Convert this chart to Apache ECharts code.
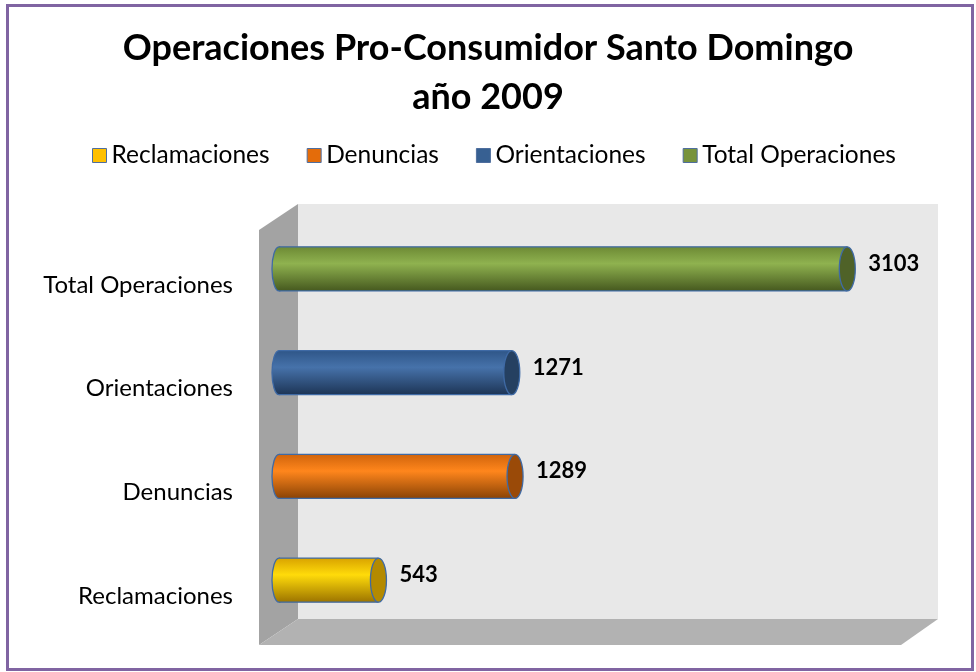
<!DOCTYPE html>
<html>
<head>
<meta charset="utf-8">
<script src="https://cdn.jsdelivr.net/npm/echarts@6/dist/echarts.min.js"></script>
<style>html,body{margin:0;padding:0;background:#fff}#c{width:976px;height:672px}</style>
</head>
<body>
<div id="c"></div>
<script>
const categories = ['Reclamaciones', 'Denuncias', 'Orientaciones', 'Total Operaciones'];
const values = [543, 1289, 1271, 3103];
const axisMax = 3500;
const titleText = 'Operaciones Pro-Consumidor Santo Domingo\naño 2009';

const palettes = [
  { legend: '#ffc000', top: '#d9a300', mid: '#ffdb0a', bottom: '#9c7400', cap: '#b48a00' },
  { legend: '#e46c0a', top: '#d0640c', mid: '#ff861c', bottom: '#8a4306', cap: '#9a4a08' },
  { legend: '#376092', top: '#2f5688', mid: '#4672aa', bottom: '#1d3556', cap: '#254061' },
  { legend: '#77933c', top: '#6d8a35', mid: '#8fb24f', bottom: '#46591f', cap: '#4f6228' }
];

const FONT = 'Lato, "Open Sans", sans-serif';
const OUTLINE = '#3f6aa5';

function makeRender(pal) {
  return function (params, api) {
    const val = api.value(0);
    const cat = api.value(1);
    const s = api.coord([0, cat]);
    const e = api.coord([val, cat]);
    const h = api.size([0, 1])[1] * 0.425;
    const cy = s[1];
    const top = cy - h / 2;
    const stops = [
      { offset: 0, color: pal.top },
      { offset: 0.38, color: pal.mid },
      { offset: 1, color: pal.bottom }
    ];
    return {
      type: 'group',
      children: [
        { type: 'ellipse', shape: { cx: s[0], cy: cy, rx: 7, ry: h / 2 },
          style: { fill: new echarts.graphic.LinearGradient(0, 0, 0, 1, stops), stroke: OUTLINE, lineWidth: 1.3 } },
        { type: 'rect', shape: { x: s[0], y: top, width: e[0] - s[0], height: h },
          style: { fill: new echarts.graphic.LinearGradient(0, 0, 0, 1, stops) } },
        { type: 'line', shape: { x1: s[0], y1: top, x2: e[0], y2: top },
          style: { stroke: OUTLINE, lineWidth: 1.3 } },
        { type: 'line', shape: { x1: s[0], y1: top + h, x2: e[0], y2: top + h },
          style: { stroke: OUTLINE, lineWidth: 1.3 } },
        { type: 'ellipse', shape: { cx: e[0], cy: cy, rx: 8, ry: h / 2 },
          style: { fill: pal.cap, stroke: OUTLINE, lineWidth: 1.3 } },
        { type: 'text', style: { text: String(val), x: e[0] + 21, y: cy - 5,
          verticalAlign: 'middle', align: 'left', fill: '#000',
          font: 'bold 22px ' + FONT } }
      ]
    };
  };
}

const series = categories.map(function (name, i) {
  return {
    name: name,
    type: 'custom',
    itemStyle: { color: palettes[i].legend },
    renderItem: makeRender(palettes[i]),
    encode: { x: 0, y: 1 },
    data: [[values[i], i]],
    z: 5
  };
});

const chart = echarts.init(document.getElementById('c'), null, { renderer: 'canvas' });
chart.setOption({
  animation: false,
  backgroundColor: '#ffffff',
  title: {
    text: titleText,
    left: 'center',
    top: 19,
    textStyle: { fontFamily: FONT, fontSize: 36, fontWeight: 'bold', color: '#000', lineHeight: 49 }
  },
  legend: {
    data: categories,
    left: 87,
    top: 138,
    icon: 'rect',
    itemWidth: 14,
    itemHeight: 14,
    itemGap: 37,
    itemStyle: { borderColor: '#4f6e9e', borderWidth: 1 },
    textStyle: { fontFamily: FONT, fontSize: 24.5, color: '#000' }
  },
  grid: { left: 279, right: 56, top: 217, bottom: 40, containLabel: false },
  xAxis: { type: 'value', min: 0, max: axisMax, show: false },
  yAxis: {
    type: 'category',
    data: categories,
    axisLine: { show: false },
    axisTick: { show: false },
    splitLine: { show: false },
    axisLabel: { color: '#000', fontFamily: FONT, fontSize: 24, margin: 46,
      verticalAlign: 'top', lineHeight: 32 }
  },
  graphic: [
    { type: 'rect', z: -10, shape: { x: 298, y: 204, width: 640, height: 415 }, style: { fill: '#e8e8e8' } },
    { type: 'polygon', z: -10, shape: { points: [[259, 230], [298, 204], [298, 619], [259, 645]] }, style: { fill: '#a3a3a3' } },
    { type: 'polygon', z: -10, shape: { points: [[298, 619], [938, 619], [901, 645], [259, 645]] }, style: { fill: '#b2b2b2' } },
    { type: 'rect', z: 10, shape: { x: 7.5, y: 5.5, width: 965, height: 664 }, style: { fill: 'none', stroke: '#8064a2', lineWidth: 3 } }
  ],
  series: series
});
</script>
</body>
</html>
